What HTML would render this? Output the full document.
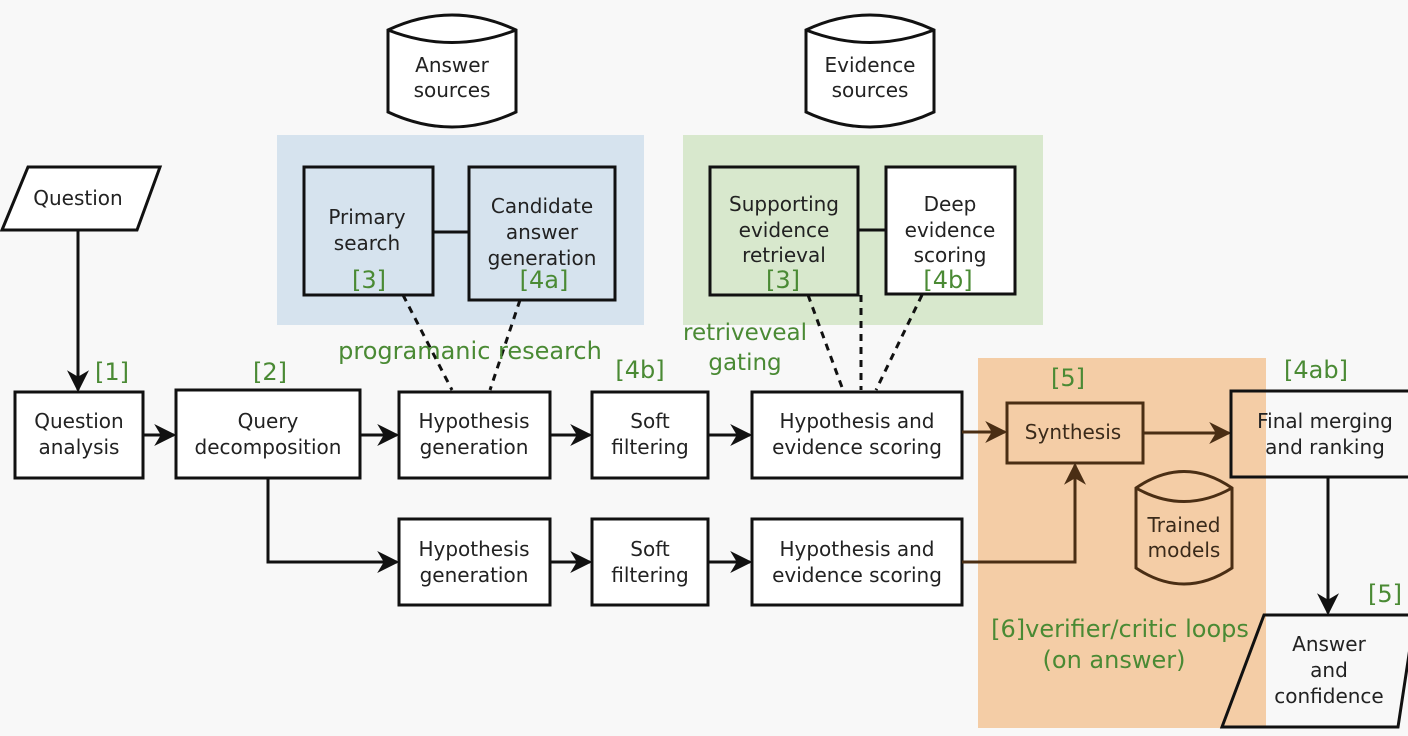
<!DOCTYPE html>
<html><head><meta charset="utf-8"><style>
html,body{margin:0;padding:0;background:#f8f8f8;}
svg{display:block;}
text{font-family:"DejaVu Sans","Liberation Sans",sans-serif;font-size:20px;fill:#222;text-anchor:middle;}
.g{fill:#4a8a34;font-size:24px;}
.b{fill:none;stroke:#111;stroke-width:3;}
.w{fill:#fff;stroke:#111;stroke-width:3;}
.d{stroke:#111;stroke-width:3;stroke-dasharray:7 6;fill:none;}
</style></head><body>
<svg width="1408" height="736" viewBox="0 0 1408 736" xmlns="http://www.w3.org/2000/svg">
<defs>
<marker id="a" markerWidth="10" markerHeight="10" refX="9" refY="5" orient="auto" markerUnits="userSpaceOnUse"><path d="M0,0 L10,5 L0,10 L3,5 z" fill="#111" transform="scale(1)"/></marker>
<marker id="A" viewBox="0 0 10 10" markerWidth="22" markerHeight="22" refX="9" refY="5" orient="auto" markerUnits="userSpaceOnUse"><path d="M0,0 L10,5 L0,10 L3,5 z" fill="#111"/></marker>
<marker id="B" viewBox="0 0 10 10" markerWidth="22" markerHeight="22" refX="9" refY="5" orient="auto" markerUnits="userSpaceOnUse"><path d="M0,0 L10,5 L0,10 L3,5 z" fill="#4a2e14"/></marker>
</defs>
<rect width="1408" height="736" fill="#f8f8f8"/>
<!-- regions -->
<rect x="277" y="135" width="367" height="190" fill="#d6e3ee"/>
<rect x="683" y="135" width="360" height="190" fill="#d8e8cd"/>
<rect x="978" y="358" width="288" height="370" fill="#f4cda6"/>

<!-- cylinders -->
<path d="M388,30 Q452,0 516,30 L516,112 Q452,142 388,112 Z" class="w"/>
<path d="M388,30 Q452,55 516,30" class="b"/>
<text x="452" y="72">Answer</text><text x="452" y="97">sources</text>
<path d="M806,30 Q870,0 934,30 L934,112 Q870,142 806,112 Z" class="w"/>
<path d="M806,30 Q870,55 934,30" class="b"/>
<text x="870" y="72">Evidence</text><text x="870" y="97">sources</text>
<path d="M1136,488 Q1184,455 1232,488 L1232,568 Q1184,600 1136,568 Z" fill="#f4cda6" stroke="#4a2e14" stroke-width="3"/>
<path d="M1136,488 Q1184,515 1232,488" fill="none" stroke="#4a2e14" stroke-width="3"/>
<text x="1184" y="532" style="fill:#3a2a1a">Trained</text><text x="1184" y="557" style="fill:#3a2a1a">models</text>

<!-- top boxes -->
<rect x="304" y="167" width="129" height="128" class="b"/>
<rect x="469" y="167" width="146" height="133" class="b"/>
<line x1="433" y1="232" x2="469" y2="232" class="b"/>
<text x="367" y="224">Primary</text><text x="367" y="250">search</text>
<text x="542" y="213">Candidate</text><text x="542" y="239">answer</text><text x="542" y="265">generation</text>
<text class="g" x="369" y="288">[3]</text><text class="g" x="544" y="288">[4a]</text>
<rect x="710" y="167" width="148" height="128" class="b"/>
<rect x="886" y="167" width="129" height="127" class="w"/>
<line x1="858" y1="230" x2="886" y2="230" class="b"/>
<text x="784" y="211">Supporting</text><text x="784" y="237">evidence</text><text x="784" y="262">retrieval</text>
<text x="950" y="211">Deep</text><text x="950" y="237">evidence</text><text x="950" y="262">scoring</text>
<text class="g" x="783" y="288">[3]</text><text class="g" x="948" y="288">[4b]</text>

<!-- dashed -->
<line x1="403" y1="295" x2="452" y2="390" class="d"/>
<line x1="520" y1="300" x2="490" y2="390" class="d"/>
<line x1="808" y1="295" x2="843" y2="390" class="d"/>
<line x1="861" y1="295" x2="861" y2="390" class="d"/>
<line x1="922" y1="295" x2="876" y2="390" class="d"/>
<text class="g" x="470" y="359">programanic research</text>
<text class="g" x="745" y="340" style="font-size:23px">retriveveal</text>
<text class="g" x="745" y="370" style="font-size:23px">gating</text>

<!-- question -->
<path d="M28,167 L160,167 L137,230 L2,230 Z" class="w"/>
<text x="78" y="205">Question</text>
<line x1="78" y1="230" x2="78" y2="390" class="b" marker-end="url(#A)"/>
<text class="g" x="112" y="380">[1]</text>
<text class="g" x="270" y="380">[2]</text>
<text class="g" x="640" y="378">[4b]</text>
<text class="g" x="1068" y="386">[5]</text>
<text class="g" x="1316" y="378">[4ab]</text>
<text class="g" x="1385" y="602">[5]</text>

<!-- main row -->
<rect x="15" y="392" width="128" height="86" class="w"/>
<text x="79" y="428">Question</text><text x="79" y="454">analysis</text>
<line x1="143" y1="435" x2="174" y2="435" class="b" marker-end="url(#A)"/>
<rect x="176" y="390" width="184" height="88" class="w"/>
<text x="268" y="428">Query</text><text x="268" y="454">decomposition</text>
<line x1="360" y1="435" x2="397" y2="435" class="b" marker-end="url(#A)"/>
<rect x="399" y="392" width="151" height="86" class="w"/>
<text x="474" y="428">Hypothesis</text><text x="474" y="454">generation</text>
<line x1="550" y1="435" x2="590" y2="435" class="b" marker-end="url(#A)"/>
<rect x="592" y="392" width="116" height="86" class="w"/>
<text x="650" y="428">Soft</text><text x="650" y="454">filtering</text>
<line x1="708" y1="435" x2="750" y2="435" class="b" marker-end="url(#A)"/>
<rect x="752" y="392" width="210" height="86" class="w"/>
<text x="857" y="428">Hypothesis and</text><text x="857" y="454">evidence scoring</text>

<line x1="962" y1="432" x2="1005" y2="432" stroke="#4a2e14" stroke-width="3" marker-end="url(#B)"/>
<rect x="1007" y="403" width="136" height="60" fill="none" stroke="#4a2e14" stroke-width="3"/>
<text x="1073" y="439" style="fill:#3a2a1a">Synthesis</text>
<line x1="1143" y1="433" x2="1229" y2="433" stroke="#4a2e14" stroke-width="3" marker-end="url(#B)"/>
<rect x="1231" y="391" width="190" height="86" fill="none" stroke="#111" stroke-width="3"/>
<text x="1325" y="428">Final merging</text><text x="1325" y="454">and ranking</text>
<line x1="1328" y1="477" x2="1328" y2="613" class="b" marker-end="url(#A)"/>
<path d="M1264,615 L1415,615 L1398,727 L1222,727 Z" fill="none" stroke="#111" stroke-width="3"/>
<text x="1329" y="651">Answer</text><text x="1329" y="677">and</text><text x="1329" y="703">confidence</text>

<!-- bottom row -->
<polyline points="268,478 268,562 397,562" class="b" marker-end="url(#A)"/>
<rect x="399" y="519" width="151" height="86" class="w"/>
<text x="474" y="556">Hypothesis</text><text x="474" y="582">generation</text>
<line x1="550" y1="562" x2="590" y2="562" class="b" marker-end="url(#A)"/>
<rect x="592" y="519" width="116" height="86" class="w"/>
<text x="650" y="556">Soft</text><text x="650" y="582">filtering</text>
<line x1="708" y1="562" x2="750" y2="562" class="b" marker-end="url(#A)"/>
<rect x="752" y="519" width="210" height="86" class="w"/>
<text x="857" y="556">Hypothesis and</text><text x="857" y="582">evidence scoring</text>
<polyline points="962,562 1075,562 1075,465" fill="none" stroke="#4a2e14" stroke-width="3" marker-end="url(#B)"/>

<text class="g" x="1120" y="637">[6]verifier/critic loops</text>
<text class="g" x="1114" y="668">(on answer)</text>
</svg>
</body></html>
